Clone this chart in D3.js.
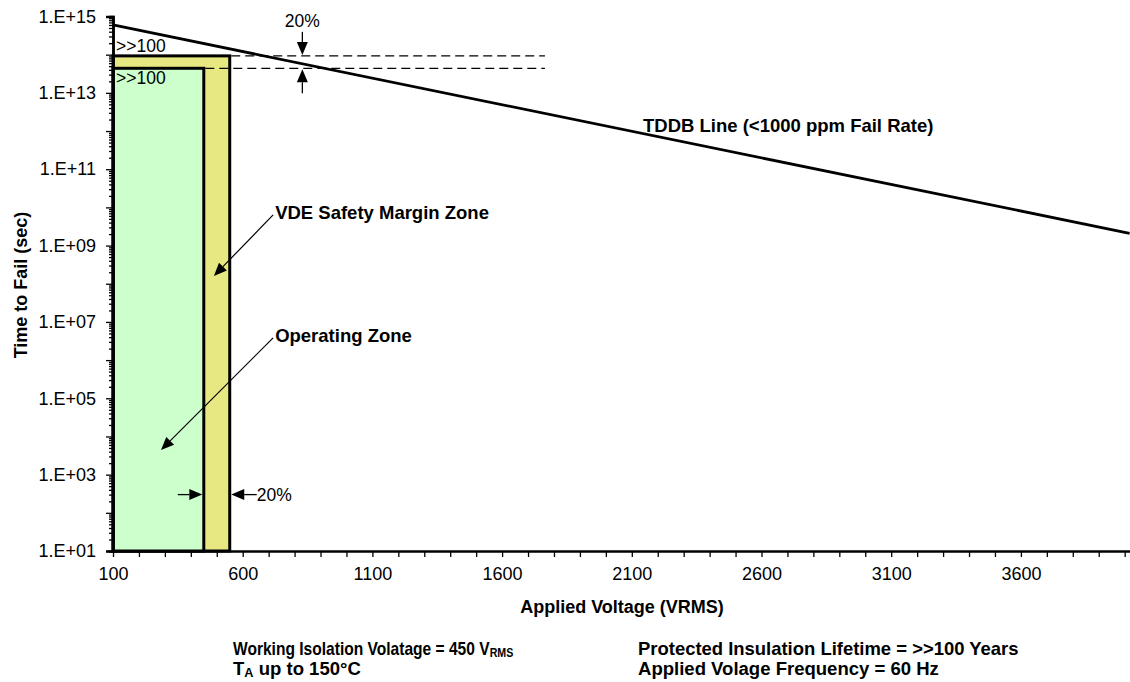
<!DOCTYPE html>
<html>
<head>
<meta charset="utf-8">
<script src="https://cdn.jsdelivr.net/npm/d3@7"></script>
<style>
  body { margin: 0; background: #fff; }
  text { font-family: "Liberation Sans", Arial, sans-serif; fill: #000; }
  .note { font-weight: bold; font-size: 17.5px; }
</style>
</head>
<body>
<svg id="chart" width="1130" height="682"></svg>
<script>
// TDDB line (voltage in VRMS, time to fail in sec)
const tddbVoltage = [100, 4019];
const tddbTime = [6.0e14, 2.1e9];

// zones: safety margin drawn first, operating zone on top
const zoneNames = ["VDE Safety Margin Zone", "Operating Zone"];
const zoneMaxVoltage = [550, 450];
const zoneMaxTime = [9.3e13, 4.4e13];
const zoneLifeLabels = [">>100", ">>100"];

const xTickValues = d3.range(100, 4100, 100);
const xTickLabels = [100, 600, 1100, 1600, 2100, 2600, 3100, 3600];
const yDecades = d3.range(1, 16);
const yTickLabels = ["1.E+01", "1.E+03", "1.E+05", "1.E+07", "1.E+09", "1.E+11", "1.E+13", "1.E+15"];

const svg = d3.select("#chart");
const plotLeft = 113, plotTop = 16.5, plotBottom = 551;

const x = d3.scaleLinear().domain([100, 4100]).range([plotLeft, plotLeft + 4000 * 0.2594]);
const y = d3.scaleLog().domain([1e1, 1e15]).range([plotBottom, plotTop]);

// zones
const zones = zoneNames.map((n, i) => ({ name: n, v: zoneMaxVoltage[i], t: zoneMaxTime[i], life: zoneLifeLabels[i] }));
const zoneFill = ["#e8e882", "#ccffcc"];

svg.selectAll("rect.zone")
  .data(zones)
  .enter()
  .append("rect")
  .attr("class", "zone")
  .attr("x", x(100))
  .attr("y", (d) => y(d.t))
  .attr("width", (d) => x(d.v) - x(100))
  .attr("height", (d) => y(1e1) - y(d.t))
  .attr("fill", (d, i) => zoneFill[i])
  .attr("stroke", "#000")
  .attr("stroke-width", 3);

// dashed guides from zone tops
const guideEndV = 1765;
svg.selectAll("line.guide")
  .data(zones)
  .enter()
  .append("line")
  .attr("x1", (d) => x(d.v) + 1.5)
  .attr("x2", x(guideEndV))
  .attr("y1", (d) => y(d.t))
  .attr("y2", (d) => y(d.t))
  .attr("stroke", "#000")
  .attr("stroke-width", 1.3)
  .attr("stroke-dasharray", "9,5");

// life labels: above the margin zone, inside the operating zone
svg.selectAll("text.life")
  .data(zones)
  .enter()
  .append("text")
  .attr("x", x(100) + 3)
  .attr("y", (d, i) => (i === 0 ? y(d.t) - 4 : y(d.t) + 16))
  .style("font-size", "17.5px")
  .text((d) => d.life);

// axes
const yAxisMajor = d3.axisLeft(y)
  .tickValues(yDecades.map((e) => Math.pow(10, e)))
  .tickSize(7)
  .tickPadding(10)
  .tickFormat((d, i) => (i % 2 === 0 ? yTickLabels[i / 2] : ""));
const yMinor = [];
yDecades.slice(0, -1).forEach((e) => {
  for (let k = 2; k < 10; k++) yMinor.push(k * Math.pow(10, e));
});
const yAxisMinor = d3.axisLeft(y).tickValues(yMinor).tickSize(4).tickFormat("");

const gy = svg.append("g").attr("transform", `translate(${plotLeft},0)`).call(yAxisMajor);
const gy2 = svg.append("g").attr("transform", `translate(${plotLeft},0)`).call(yAxisMinor);
[gy, gy2].forEach((g) => {
  g.select(".domain").attr("stroke-width", 2.5).attr("stroke", "#000");
  g.selectAll(".tick line").attr("stroke", "#000").attr("stroke-width", 1.3);
});
gy.selectAll(".tick text").style("font-size", "18px").style("font-family", '"Liberation Sans", Arial, sans-serif');

const xAxis = d3.axisBottom(x)
  .tickValues(xTickValues)
  .tickSize(6)
  .tickSizeOuter(0)
  .tickPadding(10)
  .tickFormat((d) => (xTickLabels.includes(d) ? d : ""));
const gx = svg.append("g").attr("transform", `translate(0,${plotBottom})`).call(xAxis);
gx.select(".domain").attr("stroke-width", 2.5).attr("stroke", "#000");
gx.selectAll(".tick line").attr("stroke", "#000").attr("stroke-width", 1.3);
gx.selectAll(".tick text").style("font-size", "18px").style("font-family", '"Liberation Sans", Arial, sans-serif');

// TDDB line
const line = d3.line().x((d) => x(d[0])).y((d) => y(d[1]));
svg.append("path")
  .datum(tddbVoltage.map((v, i) => [v, tddbTime[i]]))
  .attr("d", line)
  .attr("fill", "none")
  .attr("stroke", "#000")
  .attr("stroke-width", 2.8);

// arrow helper
function arrow(x1, y1, x2, y2, w) {
  const a = Math.atan2(y2 - y1, x2 - x1);
  const len = 13, hw = 5.5;
  const bx = x2 - len * Math.cos(a), by = y2 - len * Math.sin(a);
  svg.append("line")
    .attr("x1", x1).attr("y1", y1).attr("x2", bx).attr("y2", by)
    .attr("stroke", "#000").attr("stroke-width", w || 1.3);
  svg.append("path")
    .attr("d", `M${x2},${y2}L${bx + hw * Math.sin(a)},${by - hw * Math.cos(a)}L${bx - hw * Math.sin(a)},${by + hw * Math.cos(a)}Z`)
    .attr("fill", "#000");
}

// 20% on time (top)
const pctV = 830;
arrow(x(pctV), y(zones[0].t) - 24, x(pctV), y(zones[0].t) - 1);
arrow(x(pctV), y(zones[1].t) + 25, x(pctV), y(zones[1].t) + 1);
svg.append("text").attr("x", x(pctV)).attr("y", 27).attr("text-anchor", "middle").style("font-size", "17.5px").text("20%");

// 20% on voltage (bottom)
const pctT = 3e2;
arrow(x(zones[1].v) - 26, y(pctT), x(zones[1].v) - 1.5, y(pctT));
arrow(x(zones[0].v) + 27, y(pctT), x(zones[0].v) + 1.5, y(pctT));
svg.append("text").attr("x", x(zones[0].v) + 27).attr("y", y(pctT) + 6.5).style("font-size", "17.5px").text("20%");

// zone callouts
const calloutV = 725;
const calloutT = [5.0e9, 3.0e6];
const calloutTipV = [489, 285];
const calloutTipT = [1.6e8, 4.4e3];
zones.forEach((d, i) => {
  const tx = x(calloutV), ty = y(calloutT[i]);
  arrow(tx - 2, ty - 4, x(calloutTipV[i]), y(calloutTipT[i]), 1.2);
  svg.append("text")
    .attr("x", tx)
    .attr("y", ty)
    .style("font-size", "18.5px")
    .style("font-weight", "bold")
    .text(d.name);
});

// TDDB label
svg.append("text")
  .attr("x", 643).attr("y", 132)
  .style("font-size", "18.5px").style("font-weight", "bold")
  .text("TDDB Line (<1000 ppm Fail Rate)");

// axis titles
svg.append("text")
  .attr("transform", "translate(27,285) rotate(-90)")
  .attr("text-anchor", "middle")
  .style("font-size", "18px").style("font-weight", "bold")
  .text("Time to Fail (sec)");
svg.append("text")
  .attr("x", 622).attr("y", 613)
  .attr("text-anchor", "middle")
  .style("font-size", "18px").style("font-weight", "bold")
  .text("Applied Voltage (VRMS)");

// notes
const t1 = svg.append("text").attr("class", "note")
  .attr("transform", "translate(233,655) scale(0.89,1)");
t1.append("tspan").text("Working Isolation Volatage = 450 V");
t1.append("tspan").attr("dy", 2).style("font-size", "12px").text("RMS");
const t2 = svg.append("text").attr("class", "note")
  .attr("transform", "translate(233,674.5) scale(1.06,1)");
t2.append("tspan").text("T");
t2.append("tspan").attr("dy", 2).style("font-size", "12px").text("A");
t2.append("tspan").attr("dy", -2).text(" up to 150°C");
svg.append("text").attr("class", "note")
  .attr("transform", "translate(638,655) scale(1.055,1)")
  .text("Protected Insulation Lifetime = >>100 Years");
svg.append("text").attr("class", "note")
  .attr("transform", "translate(638,674.5) scale(1.06,1)")
  .text("Applied Volage Frequency = 60 Hz");
</script>
</body>
</html>
